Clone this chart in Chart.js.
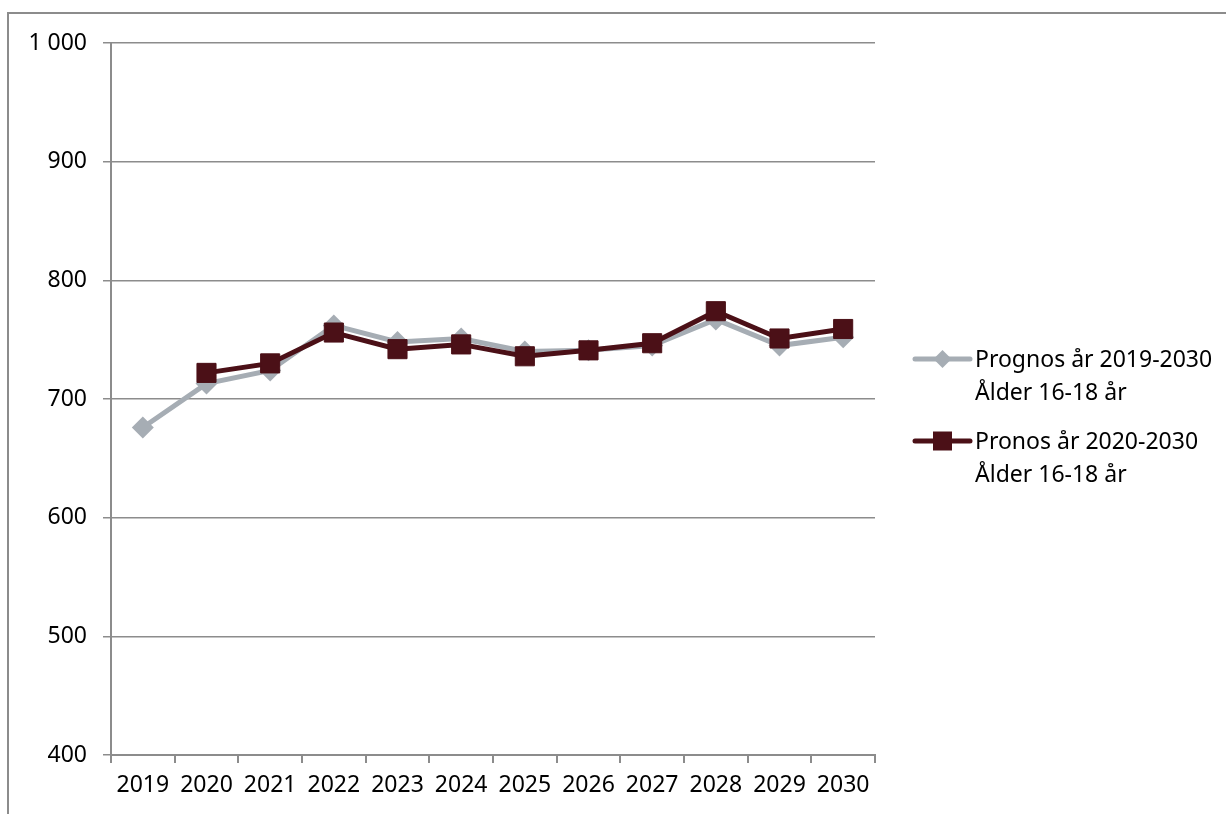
<!DOCTYPE html>
<html>
<head>
<meta charset="utf-8">
<script src="https://cdn.jsdelivr.net/npm/chart.js@4"></script>
<style>
  html, body { margin: 0; padding: 0; background: #fff; }
  #wrap { position: relative; width: 1226px; height: 814px; }
</style>
</head>
<body>
<div id="wrap"><canvas id="c" width="1226" height="814"></canvas></div>
<script>
// Years on the category axis
const years = ['2019', '2020', '2021', '2022', '2023', '2024', '2025', '2026', '2027', '2028', '2029', '2030'];

// Forecast 2019–2030, age 16–18
const prognos2019 = [676, 713, 724, 762, 748, 751, 740, 741, 745, 767, 745, 752];
// Forecast 2020–2030, age 16–18 (no value for 2019)
const prognos2020 = [null, 722, 730, 756, 742, 746, 736, 741, 747, 774, 751, 759];

// Series names (two-line legend labels)
const seriesNames = [
  ['Prognos år 2019-2030', 'Ålder 16-18 år'],
  ['Pronos år 2020-2030', 'Ålder 16-18 år']
];

// Value axis range
const yMin = 400, yMax = 1000, yStep = 100;

const GRAY = '#A6ADB4';
const MAROON = '#4B1017';
const AXIS = '#8C8C8C';
const FONT = '"Noto Sans", "Open Sans", sans-serif';
const FONT_SIZE = 23;

// Outer frame and the legend with line + marker swatches
const framePlugin = {
  id: 'frame',
  afterDraw(chart) {
    const ctx = chart.ctx;
    ctx.save();
    ctx.strokeStyle = AXIS;
    ctx.lineWidth = 2;
    ctx.beginPath();
    ctx.moveTo(8, 830);
    ctx.lineTo(8, 13);
    ctx.lineTo(1240, 13);
    ctx.stroke();

    const x0 = 915, x1 = 970, tx = 975, lh = 33;
    const rows = [359, 441];
    chart.data.datasets.forEach((ds, i) => {
      const y = rows[i];
      ctx.strokeStyle = ds.borderColor;
      ctx.lineWidth = 5;
      ctx.lineCap = 'round';
      ctx.beginPath();
      ctx.moveTo(x0, y);
      ctx.lineTo(x1, y);
      ctx.stroke();
      ctx.fillStyle = ds.pointBackgroundColor;
      const cx = (x0 + x1) / 2;
      if (ds.pointStyle === 'rectRot') {
        ctx.beginPath();
        ctx.moveTo(cx, y - 9);
        ctx.lineTo(cx + 9, y);
        ctx.lineTo(cx, y + 9);
        ctx.lineTo(cx - 9, y);
        ctx.closePath();
        ctx.fill();
      } else {
        ctx.fillRect(cx - 9.5, y - 9.5, 19, 19);
      }
      ctx.fillStyle = '#000';
      ctx.font = FONT_SIZE + 'px ' + FONT;
      ctx.textAlign = 'left';
      ctx.textBaseline = 'middle';
      seriesNames[i].forEach((t, k) => ctx.fillText(t, tx, y + 1 + k * lh));
    });
    ctx.restore();
  }
};

new Chart(document.getElementById('c'), {
  type: 'line',
  data: {
    labels: years,
    datasets: [
      {
        label: seriesNames[0].join(' '),
        data: prognos2019,
        order: 1,
        borderColor: GRAY,
        backgroundColor: GRAY,
        pointBackgroundColor: GRAY,
        pointBorderColor: GRAY,
        borderWidth: 5,
        pointStyle: 'rectRot',
        pointRadius: 11,
        pointBorderWidth: 0,
        tension: 0
      },
      {
        label: seriesNames[1].join(' '),
        data: prognos2020,
        order: 0,
        borderColor: MAROON,
        backgroundColor: MAROON,
        pointBackgroundColor: MAROON,
        pointBorderColor: MAROON,
        borderWidth: 5,
        pointStyle: 'rect',
        pointRadius: 13.5,
        pointBorderWidth: 1,
        tension: 0
      }
    ]
  },
  options: {
    responsive: false,
    animation: false,
    events: [],
    layout: { padding: { top: 43, right: 351, bottom: 0, left: 0 } },
    plugins: { legend: { display: false }, tooltip: { enabled: false } },
    scales: {
      x: {
        offset: true,
        grid: {
          offset: true,
          drawOnChartArea: false,
          drawTicks: true,
          tickLength: 8,
          color: AXIS,
          lineWidth: 2
        },
        border: { color: AXIS, width: 2 },
        ticks: { color: '#000', font: { family: FONT, size: FONT_SIZE }, padding: 9, maxRotation: 0 },
        afterFit(scale) { scale.height = 59; }
      },
      y: {
        min: yMin,
        max: yMax,
        grid: { color: AXIS, lineWidth: 1.5, tickLength: 8 },
        border: { color: AXIS, width: 2 },
        ticks: {
          stepSize: yStep,
          color: '#000',
          font: { family: FONT, size: FONT_SIZE },
          padding: 16,
          callback: v => String(v).replace(/\B(?=(\d{3})+(?!\d))/g, ' ')
        },
        afterFit(scale) { scale.width = 111; }
      }
    }
  },
  plugins: [framePlugin]
});
</script>
</body>
</html>
